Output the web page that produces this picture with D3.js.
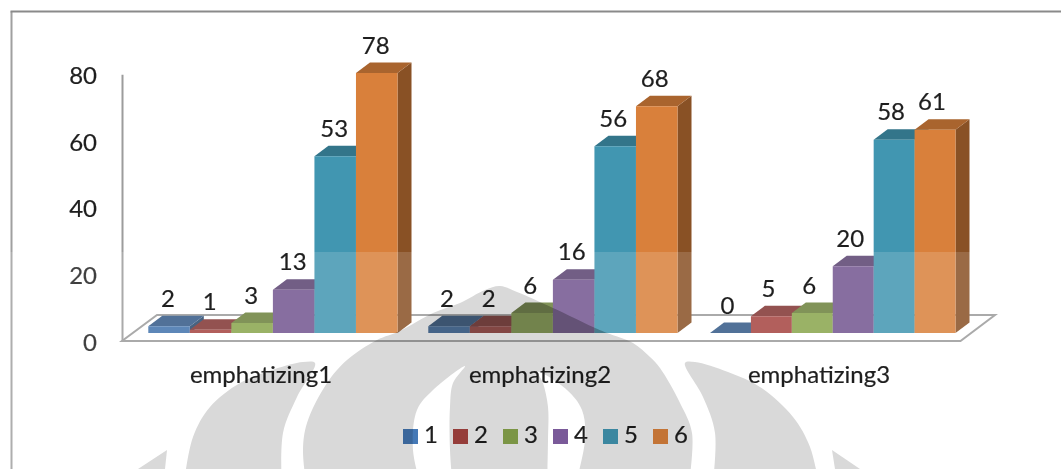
<!DOCTYPE html>
<html>
<head>
<meta charset="utf-8">
<style>
  html, body { margin: 0; padding: 0; background: #fff; overflow: hidden; }
  text { font-family: Lato, "Open Sans", sans-serif; fill: #1e1e1e; stroke: #1e1e1e; stroke-width: 0.2px; }
</style>
<script src="https://cdn.jsdelivr.net/npm/d3@7/dist/d3.min.js"></script>
</head>
<body>
<svg id="chart" width="1061" height="469"></svg>
<script>
// Scores per item, one list per answer level
const categories = ["emphatizing1", "emphatizing2", "emphatizing3"];
const seriesNames = ["1", "2", "3", "4", "5", "6"];
const level1 = [2, 2, 0];
const level2 = [1, 2, 5];
const level3 = [3, 6, 6];
const level4 = [13, 16, 20];
const level5 = [53, 56, 58];
const level6 = [78, 68, 61];
const seriesValues = [level1, level2, level3, level4, level5, level6];
const seriesColors = ["#4172ac", "#a54340", "#89a54c", "#735590", "#4196b1", "#d9803b"];
const yTicks = [0, 20, 40, 60, 80];

// Background emblem outlines in page pixels; each runs from the bottom edge round to the bottom edge
const emblemDome = [[688,490],[692,433],[680,403],[660,368],[650,357],[633,343],[607,333],[593,327],[553,308],[517,292],[500,286],
                    [485,290],[460,303],[433,313],[400,331],[377,340],[347,360],[327,383],[307,423],[303,450],[307,490]];
const emblemLeftWing = [[282,490],[283,433],[297,397],[315,363],[303,362],[275,369],[240,383],[210,407],[193,437],[183,490]];
const emblemRightWing = [[712,490],[715,433],[703,397],[685,363],[695,362],[728,372],[760,387],[793,417],[810,447],[820,490]];
const emblemLeftTip = [[167,450],[165,469],[138,469]];
const emblemRightTip = [[832,450],[860,469],[835,469]];
const emblemLeftArc = [[453,490],[450,450],[450,407],[453,383],[465,366],[433,390],[417,410],[413,450],[422,490]];
const emblemRightArc = [[547,490],[548,440],[548,407],[543,383],[538,372],[567,390],[582,410],[585,440],[574,490]];

const svg = d3.select("#chart");
svg.append("rect").attr("width", 1061).attr("height", 469).attr("fill", "#fff");

// Outer frame: open on the right and at the bottom
svg.append("path").attr("d", "M11.5,469V11.5").attr("fill", "none").attr("stroke", "#a0a0a0").attr("stroke-width", 2);
svg.append("path").attr("d", "M10.5,11.5H1061").attr("fill", "none").attr("stroke", "#8a8a8a").attr("stroke-width", 2);

// Scales: the front face of a bar stands on frontBase, the axis on wallBase
const unit = 260 / 78;
const frontBase = 333, wallBase = 341;
const yFront = d3.scaleLinear().domain([0, 80]).range([frontBase, frontBase - 80 * unit]);
const yWall = d3.scaleLinear().domain([0, 80]).range([wallBase, wallBase - 80 * unit]);
const groupSpans = [[148.3, 397.5], [428.3, 677.5], [710, 955.5]];
const xSeries = groupSpans.map(span => d3.scaleBand().domain(seriesNames).range(span));
const xCategoryLabel = d3.scalePoint().domain(categories).range([261, 819]);
const depthX = 14, depthY = 10.5;

// Floor plate and vertical axis
const floorCorners = [[122, wallBase], [960.5, wallBase], [995, 315], [157, 315]];
svg.append("path")
  .attr("d", d3.line()(floorCorners) + "Z")
  .attr("fill", "#fff").attr("stroke", "#9c9c9c").attr("stroke-width", 2);

const yAxis = d3.axisLeft(yWall).tickValues(yTicks).tickSize(0).tickPadding(25).tickFormat(d3.format("d"));
const axisG = svg.append("g").attr("transform", "translate(122,0)").call(yAxis);
axisG.select(".domain").attr("stroke", "#9c9c9c").attr("stroke-width", 2);
axisG.selectAll("text").attr("font-size", 24).attr("dy", 9).style("font-family", "Lato").style("fill", "#1e1e1e");

const shade = (hex, k) => {
  const c = d3.rgb(hex);
  return d3.rgb(c.r * k, c.g * k, c.b * k).formatHex();
};

// One record per bar
const records = [];
categories.forEach((cat, ci) => {
  seriesNames.forEach((name, si) => {
    records.push({ ci, name, value: seriesValues[si][ci], color: seriesColors[si] });
  });
});
const poly = d3.line();
const left = d => xSeries[d.ci](d.name);
const right = d => left(d) + xSeries[d.ci].bandwidth();
const sidePath = d => poly([[right(d), yFront(d.value)], [right(d) + depthX, yFront(d.value) - depthY],
                            [right(d) + depthX, yFront(0) - depthY], [right(d), yFront(0)]]) + "Z";
const topPath = d => poly([[left(d), yFront(d.value)], [left(d) + depthX, yFront(d.value) - depthY],
                           [right(d) + depthX, yFront(d.value) - depthY], [right(d), yFront(d.value)]]) + "Z";
const frontPath = d => poly([[left(d), yFront(d.value)], [right(d), yFront(d.value)],
                             [right(d), yFront(0)], [left(d), yFront(0)]]) + "Z";

// Bars: side, top and front of each box, left to right so neighbours overlap correctly
const bars = svg.append("g").selectAll("g.bar").data(records).join("g").attr("class", "bar");
bars.append("path").attr("fill", d => shade(d.color, 0.63)).attr("d", sidePath);
bars.append("path").attr("fill", d => shade(d.color, 0.78)).attr("d", topPath);
bars.append("path").attr("fill", d => d.color).attr("d", frontPath);

// Clip region covering the bars, used to deepen the emblem where it crosses them
svg.append("clipPath").attr("id", "barsClip").selectAll("path").data(records).join("path")
  .attr("d", d => sidePath(d) + topPath(d) + frontPath(d));

// Pale veil over the lower part of the plot
svg.append("rect").attr("x", 0).attr("y", 252).attr("width", 1061).attr("height", 217)
  .attr("fill", "#fff").attr("opacity", 0.15);

// Value labels above each bar
svg.append("g").selectAll("text").data(records).join("text")
  .attr("x", d => (left(d) + right(d)) / 2 - 1 - d.ci)
  .attr("y", d => yFront(d.value) - depthY - 9)
  .attr("text-anchor", "middle")
  .attr("font-size", 24)
  .text(d => d.value);

// Category labels
svg.append("g").selectAll("text").data(categories).join("text")
  .attr("x", d => xCategoryLabel(d))
  .attr("y", 383)
  .attr("text-anchor", "middle")
  .attr("font-size", 24)
  .text(d => d);

// Legend
const xLegend = d3.scalePoint().domain(seriesNames).range([403, 653]);
const legend = svg.append("g").selectAll("g").data(seriesNames).join("g")
  .attr("transform", d => `translate(${xLegend(d)},429)`);
legend.append("rect").attr("width", 15).attr("height", 15)
  .attr("fill", (d, i) => shade(seriesColors[i], 1.06));
legend.append("text").attr("x", 21).attr("y", 14).attr("font-size", 24).text(d => d);

// Grey emblem printed over the page, darkening whatever lies beneath it
const outline = d3.line().curve(d3.curveCatmullRom.alpha(0.5));
const emblem = svg.append("g").style("mix-blend-mode", "multiply");
[emblemDome, emblemLeftWing, emblemRightWing].forEach(shape => {
  emblem.append("path").attr("d", outline(shape) + "Z").attr("fill", "#d9d9d9");
});
[emblemLeftTip, emblemRightTip].forEach(shape => {
  emblem.append("path").attr("d", poly(shape) + "Z").attr("fill", "#d9d9d9");
});
[emblemLeftArc, emblemRightArc].forEach(shape => {
  emblem.append("path").attr("d", outline(shape) + "Z").attr("fill", "#fff");
});

// Second pass of the dome, limited to the bars
svg.append("g").attr("clip-path", "url(#barsClip)").style("mix-blend-mode", "multiply")
  .append("path").attr("d", outline(emblemDome) + "Z").attr("fill", "#dedede");
</script>
</body>
</html>
